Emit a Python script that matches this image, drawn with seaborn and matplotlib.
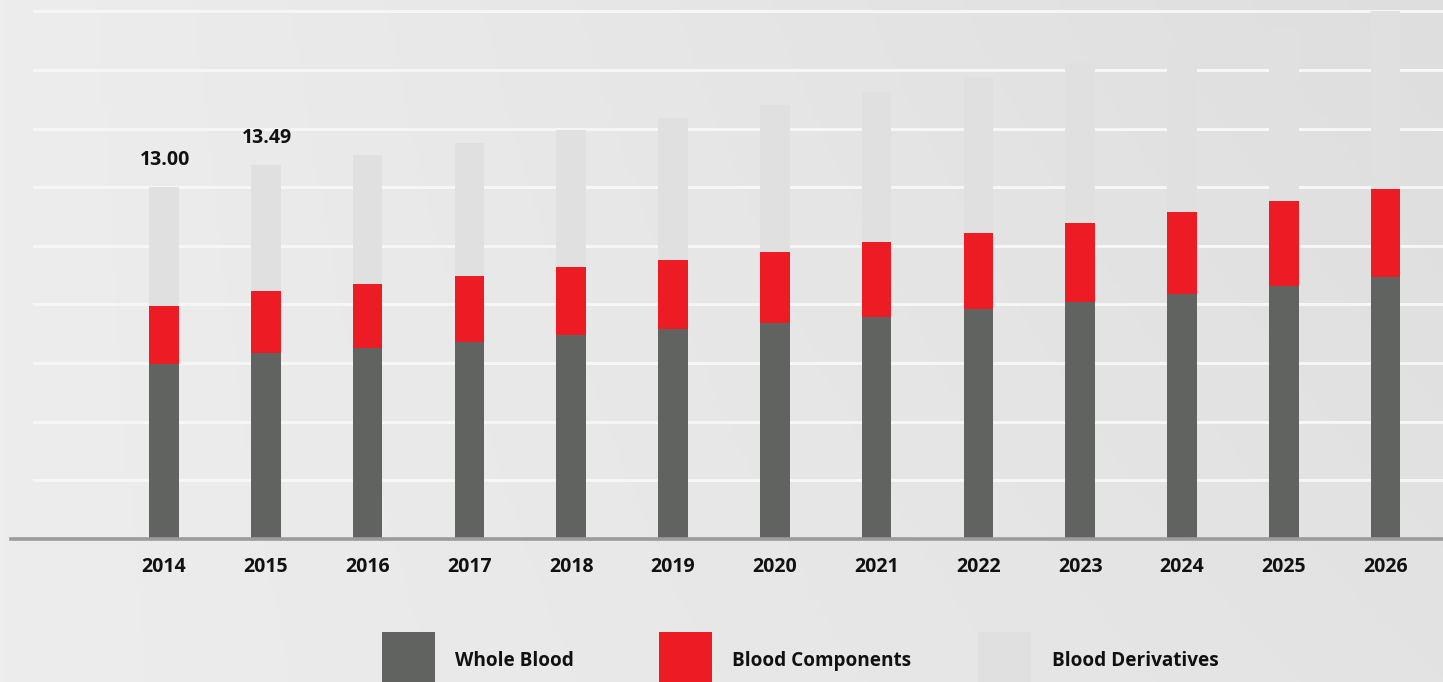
import numpy as np
import pandas as pd
import matplotlib
matplotlib.use("Agg")
import matplotlib.pyplot as plt
import seaborn as sns
from matplotlib.patches import Rectangle

# ---------------- data ----------------
years = ["2014", "2015", "2016", "2017", "2018", "2019", "2020",
         "2021", "2022", "2023", "2024", "2025", "2026"]
whole_blood = [6.45, 6.87, 7.06, 7.28, 7.52, 7.74, 7.96, 8.21, 8.49, 8.74, 9.04, 9.36, 9.69]
blood_components = [2.15, 2.29, 2.35, 2.43, 2.51, 2.56, 2.65, 2.75, 2.82, 2.92, 3.03, 3.14, 3.24]
blood_derivatives = [4.40, 4.66, 4.78, 4.92, 5.08, 5.24, 5.41, 5.56, 5.76, 5.94, 6.12, 6.37, 6.57]
value_labels = ["13.00", "13.49", "", "", "", "", "", "", "", "", "", "", ""]
series_names = ["Whole Blood", "Blood Components", "Blood Derivatives"]
series_colors = ["#616361", "#ed1c24", "#e0e0e0"]

plt.rcParams['font.family'] = ['Open Sans', 'DejaVu Sans']

df = pd.DataFrame({
    "year": years,
    "whole": whole_blood,
    "comp": blood_components,
    "deriv": blood_derivatives,
})
df["top_comp"] = df["whole"] + df["comp"]
df["total"] = df["top_comp"] + df["deriv"]

W, H = 1443, 682
fig = plt.figure(figsize=(W / 100, H / 100), dpi=100)

# background gradient
bg = fig.add_axes([0, 0, 1, 1], zorder=-10)
xx, yy = np.meshgrid(np.linspace(0, 1, 300), np.linspace(0, 1, 150))
shade = 237 - 10 * xx - 5 * xx * (1 - yy)
img = np.dstack([shade, shade, shade]) / 255.0
bg.imshow(img, aspect="auto", extent=[0, 1, 0, 1], origin="upper")
bg.set_axis_off()

# main axes
base_px = 538.7
ax = fig.add_axes([33 / W, (H - base_px) / H, (W - 33) / W, base_px / H])
ax.patch.set_alpha(0)

bar_w = 29.7 / 101.8
common = dict(x="year", order=years, width=bar_w, saturation=1, linewidth=0, ax=ax, zorder=3)
sns.barplot(data=df, y="total", color=series_colors[2], **common)
sns.barplot(data=df, y="top_comp", color=series_colors[1], **common)
sns.barplot(data=df, y="whole", color=series_colors[0], **common)

step = 13.0 / 6
ymax = base_px * step / 58.6
ax.set_ylim(0, ymax)
ax.set_xlim((33 - 164) / 101.8, (W - 164) / 101.8)

ax.set_yticks([step * k for k in range(1, 10)])
ax.set_yticklabels([])
ax.yaxis.grid(True, color="#f6f6f6", linewidth=2.2, zorder=1)
ax.xaxis.grid(False)
ax.set_axisbelow(True)
ax.tick_params(axis="y", length=0)
ax.tick_params(axis="x", length=0, pad=13, labelsize=14, labelcolor="#111111")
for lab in ax.get_xticklabels():
    lab.set_fontweight("bold")
ax.set_xlabel("")
ax.set_ylabel("")
for s in ax.spines.values():
    s.set_visible(False)

ax.axhline(0, xmin=-22 / (W - 33), xmax=1, clip_on=False, color="#9b9b9b", lw=2.6, zorder=4)

# value labels
for i, txt in enumerate(value_labels):
    if txt:
        ax.annotate(txt, xy=(i, df["total"][i]), xytext=(1, 27), textcoords="offset pixels",
                    ha="center", va="center", fontsize=14, fontweight="bold", color="#111111")

# legend (manual)
patch_x = [382, 659, 978]
text_x = [455, 732, 1052]
for px, tx, name, col in zip(patch_x, text_x, series_names, series_colors):
    fig.add_artist(Rectangle((px / W, 0), 53 / W, (H - 632) / H, transform=fig.transFigure,
                             facecolor=col, edgecolor="none"))
    fig.text(tx / W, (H - 661) / H, name, ha="left", va="center", fontsize=13.7,
             fontweight="bold", color="#111111")

fig.savefig("out.png", dpi=100)
